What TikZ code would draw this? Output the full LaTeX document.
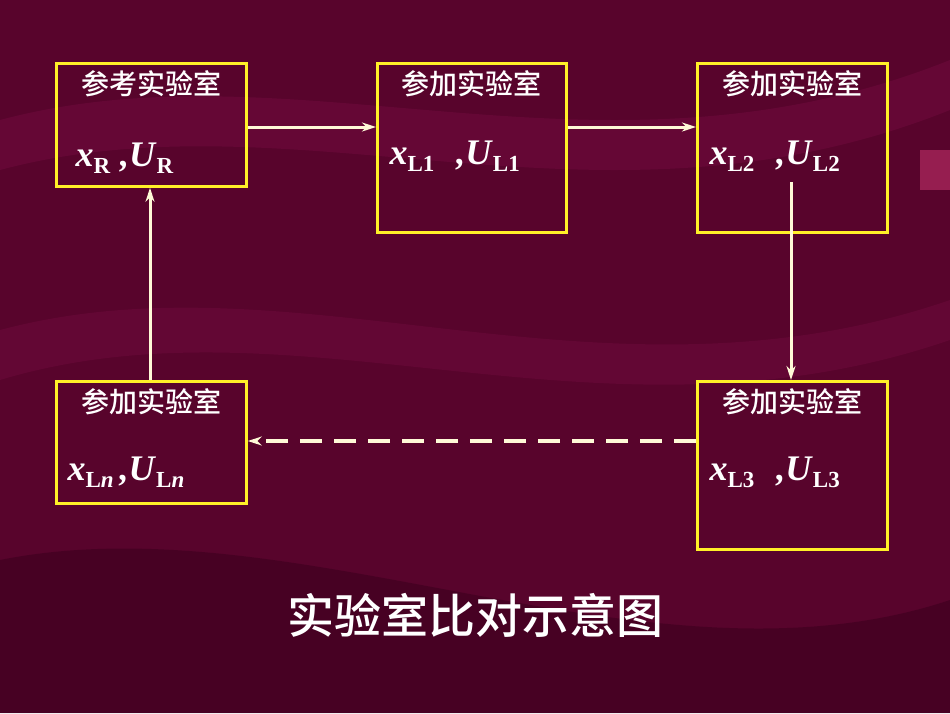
\documentclass[tikz,border=0pt]{standalone}
\usepackage{fontspec}
\usetikzlibrary{arrows.meta}
\setmainfont{Liberation Serif}
\newfontfamily\cjk{Noto Sans CJK SC Medium}
\definecolor{bgc}{RGB}{88,4,44}
\definecolor{bandA}{RGB}{110,10,60}
\definecolor{bandB}{RGB}{60,0,30}
\definecolor{bandC}{RGB}{150,30,80}
\definecolor{ybox}{RGB}{255,240,40}
\definecolor{arrc}{RGB}{255,250,215}
\newcommand\mysub[1]{\raisebox{-7pt}{\fontsize{23}{23}\selectfont #1}}
\begin{document}
\begin{tikzpicture}[x=1pt,y=-1pt,
  lab/.style={draw=ybox,line width=2.8pt,inner sep=0pt},
  hdr/.style={text=white,font=\cjk\fontsize{28}{30}\selectfont,anchor=north},
  var/.style={text=white,font=\bfseries\fontsize{36}{38}\selectfont,anchor=west},
  arr/.style={draw=arrc,line width=3pt,-{Stealth[length=14pt,width=9pt]}}]
\fill[bgc] (0,0) rectangle (950,713);
\fill[bandA,opacity=0.6] (0,120) .. controls (300,40) and (600,200) .. (950,60) -- (950,110) .. controls (600,250) and (300,90) .. (0,170) -- cycle;
\fill[bandA,opacity=0.5] (0,330) .. controls (300,250) and (600,420) .. (950,300) -- (950,340) .. controls (600,460) and (300,290) .. (0,380) -- cycle;
\fill[bandB,opacity=0.6] (0,560) .. controls (300,500) and (650,700) .. (950,600) -- (950,713) -- (0,713) -- cycle;
\fill[bandC] (920,150) rectangle (950,190);
\node[lab,minimum width=190pt,minimum height=123pt,anchor=north west] (R) at (55,62) {};
\node[lab,minimum width=189pt,minimum height=169pt,anchor=north west] (L1) at (376,62) {};
\node[lab,minimum width=190pt,minimum height=169pt,anchor=north west] (L2) at (696,62) {};
\node[lab,minimum width=190pt,minimum height=122pt,anchor=north west] (Ln) at (55,380) {};
\node[lab,minimum width=190pt,minimum height=168pt,anchor=north west] (L3) at (696,380) {};
\node[hdr] (hR) at (R.north) [yshift=-5pt] {参考实验室};
\node[hdr] (h1) at (L1.north) [yshift=-5pt] {参加实验室};
\node[hdr] (h2) at (L2.north) [yshift=-5pt] {参加实验室};
\node[hdr] (hn) at (Ln.north) [yshift=-5pt] {参加实验室};
\node[hdr] (h3) at (L3.north) [yshift=-5pt] {参加实验室};
\node[var] (vR) at (72,158) {\textit{x}\mysub{R}\hspace{10pt}\textit{,U}\mysub{R}};
\node[var] (v1) at (386,156) {\textit{x}\mysub{L1}\hspace{22pt}\textit{,U}\mysub{L1}};
\node[var] (v2) at (706,156) {\textit{x}\mysub{L2}\hspace{22pt}\textit{,U}\mysub{L2}};
\node[var] (vn) at (64,472) {\textit{x}\mysub{L\textit{n}}\hspace{6pt}\textit{,U}\mysub{L\textit{n}}};
\node[var] (v3) at (706,472) {\textit{x}\mysub{L3}\hspace{22pt}\textit{,U}\mysub{L3}};
\draw[arr] (R.east |- 0,127) -- (L1.west |- 0,127);
\draw[arr] (L1.east |- 0,127) -- (L2.west |- 0,127);
\coordinate (s2) at (791,182);
\draw[arr] (s2) -- (L3.north -| s2);
\draw[arr] (Ln.north -| 150,0) -- (R.south -| 150,0);
\draw[arr,line width=3.5pt,dash pattern=on 22pt off 12pt] (L3.west |- 0,441) -- (Ln.east |- 0,441);
\node[text=white,font=\cjk\fontsize{47}{50}\selectfont] (t) at (475,615) {实验室比对示意图};
\end{tikzpicture}
\end{document}
